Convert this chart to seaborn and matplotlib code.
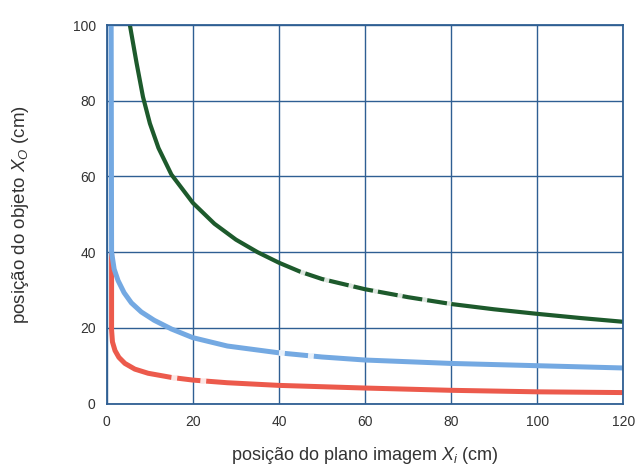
import matplotlib
matplotlib.use("Agg")
import matplotlib.pyplot as plt
import seaborn as sns
import pandas as pd

# Data
green_x = [5.35, 6.9, 8.4, 10.0, 12.0, 15.0, 20.0, 25.0, 30.0, 35.0, 40.0, 45.0, 50.0, 60.0, 70.0, 80.0, 90.0, 100.0, 110.0, 120.0]
green_y = [100.0, 90.0, 81.0, 74.0, 67.5, 60.5, 53.0, 47.5, 43.3, 40.0, 37.2, 34.8, 32.9, 30.2, 28.1, 26.3, 24.9, 23.7, 22.6, 21.6]

blue_x = [1.0, 1.05, 1.1, 1.7, 2.6, 4.0, 5.7, 8.0, 11.0, 15.0, 20.0, 28.0, 40.0, 50.0, 60.0, 80.0, 100.0, 120.0]
blue_y = [100.0, 70.0, 40.0, 35.5, 32.5, 29.3, 26.6, 24.2, 22.0, 19.7, 17.4, 15.2, 13.4, 12.3, 11.5, 10.6, 10.0, 9.4]

red_x = [1.1, 1.1, 1.1, 1.3, 1.9, 2.8, 4.2, 6.5, 9.6, 15.0, 20.0, 28.0, 40.0, 60.0, 80.0, 100.0, 120.0]
red_y = [39.7, 30.0, 19.4, 16.3, 14.0, 12.2, 10.6, 9.1, 8.0, 6.9, 6.2, 5.5, 4.8, 4.1, 3.5, 3.1, 2.9]

# ranges of the scan where the curves appear broken into dashes
green_break = (44.0, 88.0)
blue_break = (29.0, 53.0)
red_break = (11.0, 37.0)

x_ticks = [0, 20, 40, 60, 80, 100, 120]
y_ticks = [0, 20, 40, 60, 80, 100]

sns.set_theme(style="white")
plt.rcParams['font.family'] = ['Liberation Sans', 'DejaVu Sans']
plt.rcParams['mathtext.fontset'] = 'custom'
plt.rcParams['mathtext.it'] = 'Liberation Sans:italic'
plt.rcParams['mathtext.rm'] = 'Liberation Sans'

fig = plt.figure(figsize=(6.36, 4.72), dpi=100)
ax = fig.add_axes([0.168, 0.145, 0.812, 0.802])

grid_c = "#2f5f93"
for s in ax.spines.values():
    s.set_color(grid_c)
    s.set_linewidth(1.3)
ax.set_xlim(0, 120)
ax.set_ylim(0, 100)
ax.set_xticks(x_ticks)
ax.set_yticks(y_ticks)
ax.grid(True, color=grid_c, linewidth=1.0)
ax.set_axisbelow(True)

curves = [
    (red_x, red_y, "#ec5a4c", 3.6, red_break),
    (blue_x, blue_y, "#74a9e2", 3.6, blue_break),
    (green_x, green_y, "#1d5a2c", 3.0, green_break),
]
for xs, ys, col, lw, brk in curves:
    df = pd.DataFrame({"x": xs, "y": ys})
    sns.lineplot(data=df, x="x", y="y", ax=ax, color=col, linewidth=lw,
                 estimator=None, sort=False)
    part = df[(df["x"] >= brk[0]) & (df["x"] <= brk[1])]
    sns.lineplot(data=part, x="x", y="y", ax=ax, color="white", linewidth=lw + 0.6,
                 estimator=None, sort=False, alpha=0.85,
                 linestyle=(0, (1.0, 4.0)))

ax.tick_params(axis="both", length=0, labelsize=10, colors="#333333", pad=8)
ax.set_xlabel(r"posição do plano imagem $X_i$ (cm)", fontsize=13, color="#333333", labelpad=12)
ax.set_ylabel(r"posição do objeto $X_O$ (cm)", fontsize=13.5, color="#333333", labelpad=30)

fig.savefig("out.png", dpi=100, facecolor="white")
